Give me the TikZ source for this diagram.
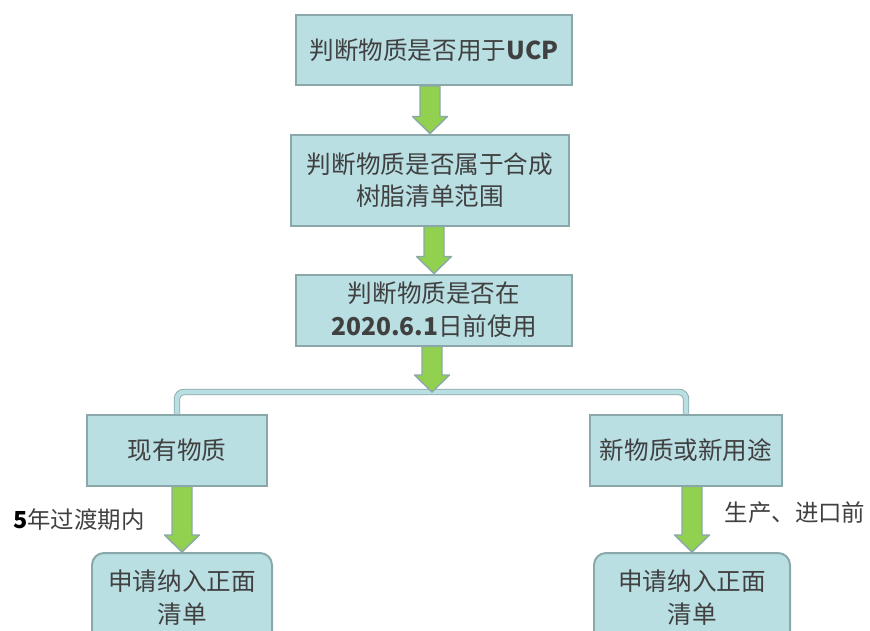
\documentclass[tikz,border=0pt]{standalone}
\usepackage{fontspec}
\setmainfont{Noto Sans CJK SC}
\usetikzlibrary{calc}
\definecolor{boxblue}{HTML}{B9DFE3}
\definecolor{boxline}{HTML}{8AA8A9}
\definecolor{arrgreen}{HTML}{92D050}
\definecolor{txtgray}{HTML}{404040}
% fat green arrow, straight down to the x of the target
\newcommand\fatarrow[2]{%
  \filldraw[arrgreen,draw=boxline,line width=1.2pt,line join=round]
    let \p1=(#1), \p2=(#2) in
    (\x2-0.3cm,\y1) -- (\x2-0.3cm,\y2+0.51cm) -- (\x2-0.525cm,\y2+0.51cm)
    -- (\x2,\y2) -- (\x2+0.525cm,\y2+0.51cm) -- (\x2+0.3cm,\y2+0.51cm)
    -- (\x2+0.3cm,\y1) -- cycle;}
\begin{document}
\begin{tikzpicture}
    [x=0.03cm,y=-0.03cm,
     stepbox/.style={shape=rectangle,fill=boxblue,draw=boxline,line width=1.7pt,
       text=txtgray,align=center,font=\fontsize{21}{28}\selectfont,inner sep=0pt},
     endbox/.style={stepbox,rounded corners=0.36cm},
     note/.style={text=txtgray,font=\fontsize{20}{24}\selectfont,inner sep=0pt}]
    \useasboundingbox (0,0) rectangle (870,630);
    \node [stepbox,minimum width=8.28cm,minimum height=2.1cm] (ucp) at (434,50)
      {判断物质是否用于\textbf{UCP}};
    \node [stepbox,minimum width=8.34cm,minimum height=2.73cm] (resin) at (430,180)
      {判断物质是否属于合成\\树脂清单范围};
    \node [stepbox,minimum width=8.28cm,minimum height=2.13cm] (date) at (434,310)
      {判断物质是否在\\\textbf{2020.6.1}日前使用};
    \node [stepbox,minimum width=5.4cm,minimum height=2.13cm] (old) at (177,450) {现有物质};
    \node [stepbox,minimum width=5.76cm,minimum height=2.13cm] (new) at (686,450) {新物质或新用途};
    \node [endbox,minimum width=5.4cm,minimum height=2.7cm] (listL) at (182,598)
      {申请纳入正面\\清单};
    \node [endbox,minimum width=5.88cm,minimum height=2.7cm] (listR) at (692,598)
      {申请纳入正面\\清单};
    \coordinate (split) at (432,392);
    \node [note] (transit) at (79,520) {\textbf{\color{black}5}年过渡期内};
    \node [note] (before) at (795,513) {生产、进口前};
    % bracket
    \draw [boxline,line width=5.5pt,rounded corners=6pt] (old.north) |- (split) -| (new.north);
    \draw [boxblue,line width=4pt,rounded corners=6pt] (old.north) |- (split) -| (new.north);
    \fatarrow{ucp.south}{resin.north}
    \fatarrow{resin.south}{date.north}
    \fatarrow{date.south}{split}
    \fatarrow{old.south}{listL.north}
    \fatarrow{new.south}{listR.north}
  \end{tikzpicture}
\end{document}
